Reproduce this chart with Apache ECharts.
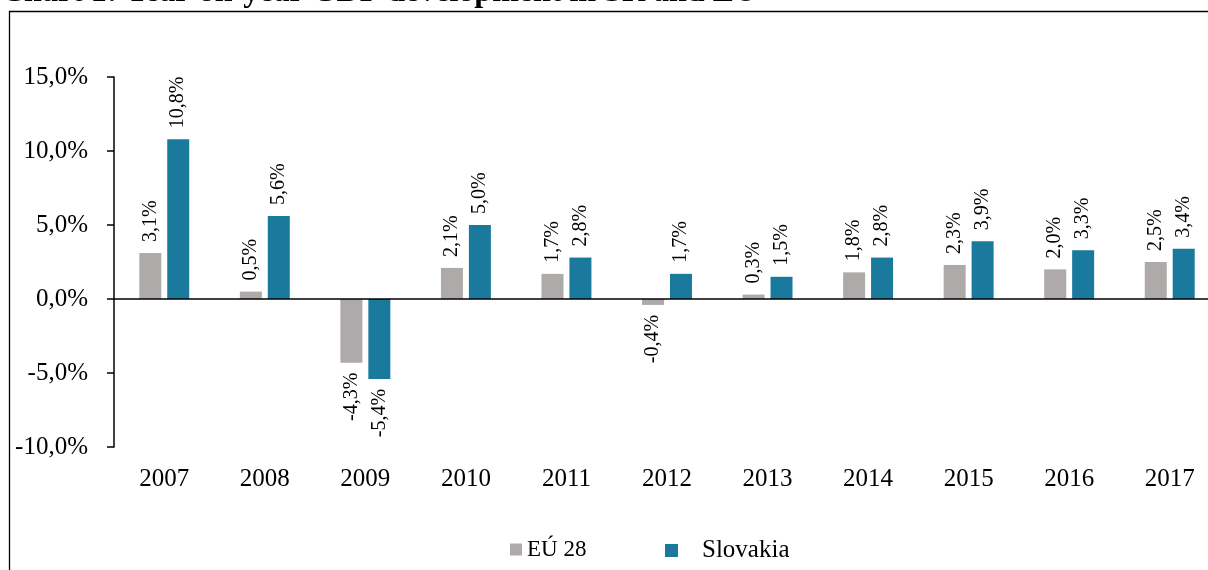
<!DOCTYPE html>
<html>
<head>
<meta charset="utf-8">
<script src="https://cdn.jsdelivr.net/npm/echarts@6/dist/echarts.min.js"></script>
<style>
  html, body { margin: 0; padding: 0; background: #fff; overflow: hidden; }
  /* the plot runs past the right edge of the picture, as in the original */
  #chart { width: 1220px; height: 570px; }
</style>
</head>
<body>
<div id="chart"></div>
<script>
var years = ['2007', '2008', '2009', '2010', '2011', '2012', '2013', '2014', '2015', '2016', '2017'];
var eu28 = [3.1, 0.5, -4.3, 2.1, 1.7, -0.4, 0.3, 1.8, 2.3, 2.0, 2.5];
var slovakia = [10.8, 5.6, -5.4, 5.0, 2.8, 1.7, 1.5, 2.8, 3.9, 3.3, 3.4];

var serif = '"Liberation Serif", "Times New Roman", serif';

function pct(v) {
  return v.toFixed(1).replace('.', ',') + '%';
}

// positive values get the label above, negative below the bar
function withLabels(values) {
  return values.map(function (v) {
    return {
      value: v,
      label: v >= 0
        ? { position: 'top', align: 'left', distance: 11 }
        : { position: 'bottom', align: 'right', distance: 10 }
    };
  });
}

var chartDom = document.getElementById('chart');
var myChart = echarts.init(chartDom);

var barLabel = {
  show: true,
  rotate: 90,
  verticalAlign: 'middle',
  fontFamily: serif,
  fontSize: 20,
  color: '#000',
  formatter: function (p) { return pct(p.value); }
};

var option = {
  animation: false,
  backgroundColor: '#fff',
  graphic: [
    {
      type: 'text',
      left: 1,
      top: -23,
      style: {
        text: 'Chart 1: Year-on-year GDP development in SR and EU',
        font: 'bold 32px ' + serif,
        fill: '#000'
      }
    },
    {
      type: 'rect',
      shape: { x: 9.5, y: 11.5, width: 1400, height: 800 },
      style: { fill: 'none', stroke: '#000', lineWidth: 1.3 }
    }
  ],
  grid: { left: 114, right: 0, top: 77, bottom: 123 },
  legend: [
    {
      data: ['EÚ 28'],
      left: 505,
      top: 533,
      itemWidth: 12,
      itemHeight: 12,
      icon: 'rect',
      textStyle: { fontFamily: serif, fontSize: 23, color: '#000' }
    },
    {
      data: ['Slovakia'],
      left: 660,
      top: 533,
      itemWidth: 13,
      itemHeight: 13,
      icon: 'rect',
      textStyle: { fontFamily: serif, fontSize: 25, color: '#000', padding: [0, 0, 0, 19] }
    }
  ],
  xAxis: {
    type: 'category',
    data: years,
    position: 'bottom',
    axisLine: { show: false },
    axisTick: { show: false },
    axisLabel: { fontFamily: serif, fontSize: 25, color: '#000', margin: 20 }
  },
  yAxis: {
    type: 'value',
    min: -10,
    max: 15,
    interval: 5,
    axisLine: { show: true, lineStyle: { color: '#000', width: 1.5 } },
    axisTick: { show: true, length: 7, lineStyle: { color: '#000', width: 1.5 } },
    splitLine: { show: false },
    axisLabel: {
      fontFamily: serif,
      fontSize: 25,
      color: '#000',
      margin: 26,
      formatter: function (v) { return pct(v); }
    }
  },
  series: [
    {
      name: 'EÚ 28',
      type: 'bar',
      data: withLabels(eu28),
      barWidth: 22,
      barGap: '27%',
      itemStyle: { color: '#aeaaa9' },
      label: barLabel
    },
    {
      name: 'Slovakia',
      type: 'bar',
      data: withLabels(slovakia),
      barWidth: 22,
      itemStyle: { color: '#1a7a9e' },
      label: barLabel,
      markLine: {
        silent: true,
        symbol: 'none',
        label: { show: false },
        lineStyle: { color: '#000', width: 1.5, type: 'solid' },
        data: [{ yAxis: 0 }]
      }
    }
  ]
};

myChart.setOption(option);
</script>
</body>
</html>
